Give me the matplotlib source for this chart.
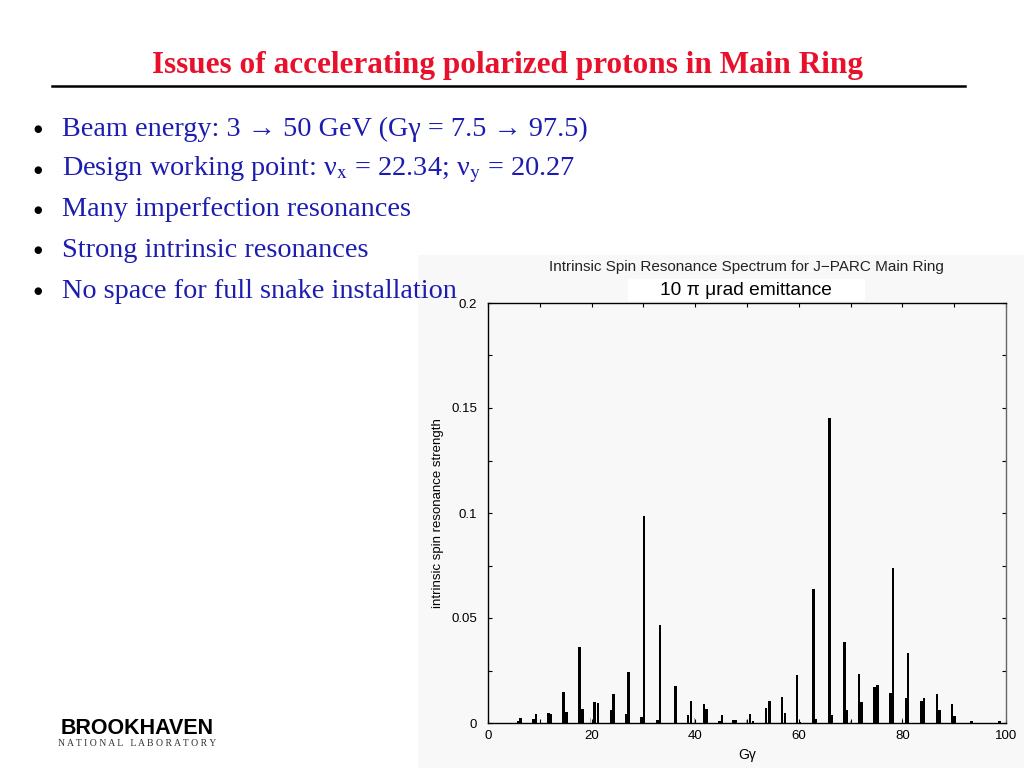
import matplotlib.pyplot as plt
from matplotlib.patches import Rectangle
from matplotlib.lines import Line2D
import numpy as np

plt.rcParams['mathtext.fontset'] = 'stix'

# slide text
title = "Issues of accelerating polarized protons in Main Ring"
bullets = [
    "Beam energy: 3 \u2192 50 GeV (G\u03b3 = 7.5 \u2192 97.5)",
    "Design working point: \u03bd$_{\\mathrm{x}}$ = 22.34; \u03bd$_{\\mathrm{y}}$ = 20.27",
    "Many imperfection resonances",
    "Strong intrinsic resonances",
    "No space for full snake installation",
]

# resonance spectrum
g_gamma = [5.8, 6.3, 8.75, 9.3, 11.7, 12.2, 14.6, 15.2, 17.7, 18.2,
           20.6, 21.2, 23.8, 24.2, 26.7, 27.1, 29.6, 30.1, 32.7, 33.2,
           36.2, 38.6, 39.2, 41.7, 42.2, 44.7, 45.2, 47.3, 47.8, 50.6,
           51.2, 53.7, 54.3, 56.8, 57.3, 59.7, 60.2, 62.8, 63.2, 65.9,
           66.3, 68.8, 69.2, 71.6, 72.1, 74.6, 75.2, 77.7, 78.2, 80.7,
           81.1, 83.7, 84.2, 86.7, 87.2, 89.6, 90.1, 93.3, 98.7]
strength = [0.0010, 0.0022, 0.0019, 0.0043, 0.0047, 0.0043, 0.0146, 0.0051, 0.0363, 0.0065,
            0.0099, 0.0093, 0.0062, 0.0136, 0.0041, 0.0243, 0.0030, 0.0987, 0.0015, 0.0467,
            0.0176, 0.0038, 0.0103, 0.0090, 0.0067, 0.0010, 0.0038, 0.0015, 0.0015, 0.0043,
            0.0011, 0.0070, 0.0103, 0.0122, 0.0048, 0.0229, 0.0005, 0.0638, 0.0019, 0.1451,
            0.0038, 0.0384, 0.0062, 0.0235, 0.0100, 0.0173, 0.0180, 0.0141, 0.0740, 0.0117,
            0.0335, 0.0106, 0.0117, 0.0136, 0.0062, 0.0089, 0.0033, 0.0010, 0.0010]
# faint grey lines
g_faint = [19.7, 39.8, 49.9, 69.9, 80.0]
s_faint = [0.0025, 0.0024, 0.0015, 0.0010, 0.0022]

fig = plt.figure(figsize=(10.24, 7.68), dpi=100)
fig.patch.set_facecolor('white')

serif = ['Liberation Serif', 'DejaVu Serif']
sans = ['Liberation Sans', 'DejaVu Sans']

fig.text(507 / 1024, 1 - 65 / 768, title, color='#e8102a', fontsize=22.5,
         fontweight='bold', family=serif, ha='center', va='center')
fig.add_artist(Line2D([52 / 1024, 965 / 1024], [1 - 86 / 768] * 2,
                      color='black', lw=1.8, transform=fig.transFigure))

for i, b in enumerate(bullets):
    y = 1 - (129 + 40.5 * i) / 768
    fig.text(38 / 1024, y, "\u25cf", color='black', fontsize=7, family=['DejaVu Sans'],
             ha='center', va='center')
    fig.text(62 / 1024, y, b, color='#1c1cb0', fontsize=20.3, family=serif,
             ha='left', va='center')

# chart background panel
fig.add_artist(Rectangle((418 / 1024, 0), 606 / 1024, 1 - 255 / 768,
                         transform=fig.transFigure, facecolor='#f8f8f8',
                         edgecolor='none', zorder=0))
fig.add_artist(Rectangle((628 / 1024, 1 - 301 / 768), 237 / 1024, 22 / 768,
                         transform=fig.transFigure, facecolor='white',
                         edgecolor='none', zorder=1))
fig.text(746 / 1024, 1 - 267 / 768,
         "Intrinsic Spin Resonance Spectrum for J\u2212PARC Main Ring",
         fontsize=11, family=sans, ha='center', va='center', color='#222222')
fig.text(746 / 1024, 1 - 290 / 768, "10 \u03c0 \u03bcrad emittance",
         fontsize=13.8, family=sans, ha='center', va='center', zorder=2)

ax = fig.add_axes([488 / 1024, 1 - 723 / 768, 518 / 1024, 420 / 768])
ax.set_facecolor('#f8f8f8')
ax.bar(g_faint, s_faint, width=0.2, color='#aaaaaa', align='center')
ax.bar(g_gamma, strength, width=0.48, color='black', align='center')
ax.set_xlim(0, 100)
ax.set_ylim(0, 0.2)
ax.set_xticks(np.arange(0, 101, 20))
ax.set_xticks(np.arange(0, 101, 10), minor=True)
ax.set_yticks([0, 0.05, 0.1, 0.15, 0.2])
ax.set_yticklabels(['0', '0.05', '0.1', '0.15', '0.2'])
ax.set_yticks(np.arange(0, 0.201, 0.025), minor=True)
ax.tick_params(which='both', direction='in', top=True, right=True,
               length=3, width=0.8, labelsize=9.5)
ax.tick_params(axis='y', pad=8)
ax.tick_params(axis='x', pad=5)
for lab in ax.get_xticklabels() + ax.get_yticklabels():
    lab.set_family(sans)
for sp in ax.spines.values():
    sp.set_linewidth(1.0)
ax.spines['right'].set_color('#666666')
ax.set_xlabel("G\u03b3", fontsize=10, family=sans, labelpad=4)
ax.set_ylabel("intrinsic spin resonance strength", fontsize=9.5, family=sans,
              labelpad=5)

# lab logo
fig.text(137 / 1024, 1 - 728 / 768, "BROOKHAVEN", fontsize=15.5, fontweight='heavy',
         family=sans, ha='center', va='center', color='black')
fig.text(137 / 1024, 1 - 744 / 768, "N A T I O N A L   L A B O R A T O R Y", fontsize=7,
         family=serif, ha='center', va='center', color='#333333')

fig.savefig('out.png', dpi=100)
